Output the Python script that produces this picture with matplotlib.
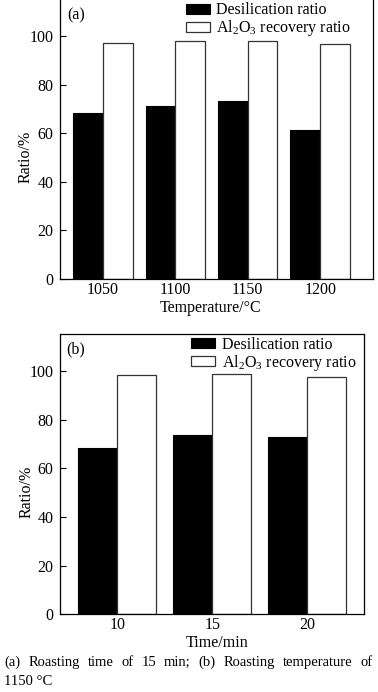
import matplotlib
matplotlib.use("Agg")
import matplotlib.pyplot as plt
import numpy as np

plt.rcParams['font.family'] = 'serif'
plt.rcParams['font.serif'] = ['Liberation Serif', 'DejaVu Serif']
plt.rcParams['mathtext.fontset'] = 'custom'
plt.rcParams['mathtext.rm'] = 'Liberation Serif'
plt.rcParams['mathtext.it'] = 'Liberation Serif:italic'
plt.rcParams['font.size'] = 11.5

# data
temps = ["1050", "1100", "1150", "1200"]
desil_a = [68.4, 71.4, 73.5, 61.6]
al2o3_a = [97.4, 98.2, 98.3, 97.0]

times = ["10", "15", "20"]
desil_b = [68.4, 73.7, 72.9]
al2o3_b = [98.4, 98.5, 97.4]

caption_1 = "(a) Roasting time of 15 min; (b) Roasting temperature of"
caption_2 = "1150 \u00b0C"

W, H = 378, 692
fig = plt.figure(figsize=(W / 100, H / 100), dpi=100)


def panel(rect, cats, desil, al2o3, xlim, tag, xlabel, leg_x, lab_x, xlab_pos, top_spine=True):
    ax = fig.add_axes(rect)
    x = np.arange(len(cats))
    w = 0.41
    ax.bar(x - w / 2, desil, w, color='black', edgecolor='black', linewidth=0.8,
           label='Desilication ratio')
    ax.bar(x + w / 2, al2o3, w, color='white', edgecolor='#333333', linewidth=0.9,
           label=r'Al$_2$O$_3$ recovery ratio')
    ax.set_xlim(*xlim)
    ax.set_ylim(0, 115)
    ax.set_yticks([0, 20, 40, 60, 80, 100])
    ax.set_xticks(x)
    ax.set_xticklabels(cats)
    ax.tick_params(axis='y', direction='in', length=4, width=0.8, pad=4.5, right=False)
    ax.tick_params(axis='x', length=0, pad=2.0)
    for s in ax.spines.values():
        s.set_linewidth(0.9)
    ax.spines['top'].set_visible(top_spine)
    ax.set_ylabel('Ratio/%')
    ax.yaxis.set_label_coords(lab_x, 0.437)
    ax.set_xlabel(xlabel)
    ax.xaxis.set_label_coords(*xlab_pos)
    ax.text(0.022, 0.945, tag, transform=ax.transAxes, ha='left', va='center')
    ax.legend(loc='upper left', bbox_to_anchor=(leg_x, 1.0), frameon=False,
              handlelength=1.5, handleheight=0.62, handletextpad=0.4,
              labelspacing=0.0, borderpad=0.15, borderaxespad=0)
    return ax


panel([60 / W, 1 - 279 / H, 313 / W, 279 / H], temps, desil_a, al2o3_a,
      (-0.595, 3.73), '(a)', 'Temperature/\u00b0C', 0.395, -0.083, (0.482, -0.074),
      top_spine=False)
panel([60 / W, 1 - 614.3 / H, 304 / W, 280 / H], times, desil_b, al2o3_b,
      (-0.603, 2.597), '(b)', 'Time/min', 0.424, -0.085, (0.518, -0.074))

# justified caption, first line
fig.canvas.draw()
r = fig.canvas.get_renderer()
words = caption_1.split(" ")
objs = [fig.text(0, 1 - 666 / H, wd, fontsize=10.5, va='baseline', ha='left') for wd in words]
widths = [o.get_window_extent(r).width for o in objs]
x0, x1 = 4, 373
gap = (x1 - x0 - sum(widths)) / (len(words) - 1)
pos = x0
for o, wd in zip(objs, widths):
    o.set_x(pos / W)
    pos += wd + gap
fig.text(4 / W, 1 - 685 / H, caption_2, fontsize=10.5, va='baseline', ha='left')

fig.savefig("out.png", dpi=100)
